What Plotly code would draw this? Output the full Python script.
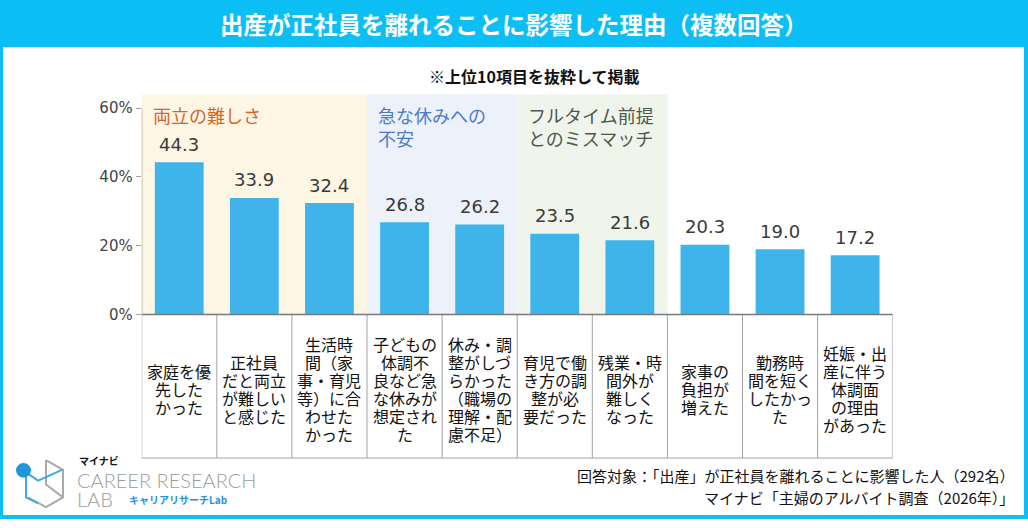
import plotly.graph_objects as go

W, H = 1028, 528

# ---------------- data ----------------
categories = [
    "家庭を優<br>先した<br>かった",
    "正社員<br>だと両立<br>が難しい<br>と感じた",
    "生活時<br>間（家<br>事・育児<br>等）に合<br>わせた<br>かった",
    "子どもの<br>体調不<br>良など急<br>な休みが<br>想定され<br>た",
    "休み・調<br>整がしづ<br>らかった<br>（職場の<br>理解・配<br>慮不足）",
    "育児で働<br>き方の調<br>整が必<br>要だった",
    "残業・時<br>間外が<br>難しく<br>なった",
    "家事の<br>負担が<br>増えた",
    "勤務時<br>間を短く<br>したかっ<br>た",
    "妊娠・出<br>産に伴う<br>体調面<br>の理由<br>があった",
]
values = [44.3, 33.9, 32.4, 26.8, 26.2, 23.5, 21.6, 20.3, 19.0, 17.2]

group_names = ["両立の難しさ", "急な休みへの<br>不安", "フルタイム前提<br>とのミスマッチ"]
group_first = [0, 3, 5]
group_last = [2, 4, 6]
group_fill = ["#FEF6E4", "#EDF1FA", "#F0F5EC"]
group_font = ["#D0672A", "#4C7ACB", "#4E574E"]

ytick_vals = [0, 20, 40, 60]
ytick_text = ["0%", "20%", "40%", "60%"]

title_text = "出産が正社員を離れることに影響した理由（複数回答）"
subtitle_text = "※上位10項目を抜粋して掲載"
note_lines = [
    "回答対象：「出産」が正社員を離れることに影響した人（292名）",
    "マイナビ「主婦のアルバイト調査（2026年）」",
]

# ---------------- helpers ----------------
def px(x):
    return x / W


def py(y):
    return 1 - y / H


CJK = "Noto Sans CJK JP"
CYAN = "#0BBEF4"
BAR = "#3FB4EA"

X0, X1 = 141.7, 892.7       # plot left/right in px
Y0, YT = 320.0, 96.0        # zero line / top of plot in px
UNIT = 3.5                  # px per percent
YMAX = (Y0 - YT) / UNIT
TABLE_BOTTOM = 466.0
LABEL_CENTER = 396.0
LABEL_STEP = 18.4

idx = list(range(len(values)))

fig = go.Figure()
fig.add_trace(go.Bar(
    x=idx, y=values, width=0.65,
    marker=dict(color=BAR, line=dict(width=0)),
    hoverinfo="skip", showlegend=False,
))

shapes = []
# banner and frame
shapes.append(dict(type="rect", xref="paper", yref="paper", x0=0, x1=1, y0=py(48), y1=1,
                   fillcolor=CYAN, line=dict(width=0), layer="below"))
shapes.append(dict(type="rect", xref="paper", yref="paper", x0=0, x1=px(3), y0=0, y1=1,
                   fillcolor=CYAN, line=dict(width=0), layer="below"))
shapes.append(dict(type="rect", xref="paper", yref="paper", x0=px(1024), x1=1, y0=0, y1=1,
                   fillcolor=CYAN, line=dict(width=0), layer="below"))
shapes.append(dict(type="rect", xref="paper", yref="paper", x0=0, x1=1, y0=0, y1=py(524),
                   fillcolor=CYAN, line=dict(width=0), layer="below"))

# group bands
for a, b, c in zip(group_first, group_last, group_fill):
    shapes.append(dict(type="rect", xref="x", yref="y", x0=a - 0.5, x1=b + 0.5, y0=0, y1=YMAX,
                       fillcolor=c, line=dict(width=0), layer="below"))

# y axis line
shapes.append(dict(type="line", xref="x", yref="y", x0=-0.5, x1=-0.5, y0=0, y1=60,
                   line=dict(color="#C2B496", width=1.5)))

# category table
shapes.append(dict(type="rect", xref="x", yref="paper", x0=-0.5, x1=len(values) - 0.5,
                   y0=py(TABLE_BOTTOM), y1=py(Y0), line=dict(color="#A3A3A3", width=1)))
for i in range(1, len(values)):
    shapes.append(dict(type="line", xref="x", yref="paper", x0=i - 0.5, x1=i - 0.5,
                       y0=py(TABLE_BOTTOM), y1=py(Y0), line=dict(color="#A3A3A3", width=1)))
shapes.append(dict(type="line", xref="x", yref="paper", x0=-0.5, x1=len(values) - 0.5,
                   y0=py(Y0), y1=py(Y0), line=dict(color="#7A7A7A", width=1.5)))


# logo icon
def path(points):
    s = "M {} {}".format(px(points[0][0]), py(points[0][1]))
    for x, y in points[1:]:
        s += " L {} {}".format(px(x), py(y))
    return s


GRAY = "#A9A9A9"
LBLUE = "#3FA9E8"
shapes.append(dict(type="path", xref="paper", yref="paper",
                   path=path([(46, 468), (63, 478), (63, 506), (46, 516), (28, 506)]),
                   line=dict(color=GRAY, width=2)))
shapes.append(dict(type="path", xref="paper", yref="paper",
                   path=path([(46, 468), (46, 493), (63, 506)]),
                   line=dict(color=GRAY, width=2)))
shapes.append(dict(type="path", xref="paper", yref="paper",
                   path=path([(26, 484), (26, 506), (38, 512)]),
                   line=dict(color=LBLUE, width=2)))
shapes.append(dict(type="path", xref="paper", yref="paper",
                   path=path([(24, 479), (38, 489), (62, 478)]),
                   line=dict(color=LBLUE, width=2)))
shapes.append(dict(type="circle", xref="paper", yref="paper",
                   x0=px(16), x1=px(31), y0=py(486), y1=py(471),
                   fillcolor="#1E96DC", line=dict(width=0)))

ann = []
ann.append(dict(text=title_text, x=px(514), y=py(24), xref="paper", yref="paper",
                xanchor="center", yanchor="middle", showarrow=False,
                font=dict(family=CJK, size=23.5, color="white", weight="bold")))
ann.append(dict(text="<b>" + subtitle_text + "</b>", x=px(534), y=py(77), xref="paper", yref="paper",
                xanchor="center", yanchor="middle", showarrow=False,
                font=dict(family=CJK, size=16, color="#111111")))

for name, a, c in zip(group_names, group_first, group_font):
    ann.append(dict(text=name, x=a - 0.5, y=py(102), xref="x", yref="paper",
                    xanchor="left", yanchor="top", xshift=9, showarrow=False, align="left",
                    font=dict(family=CJK, size=18, color=c)))

for i, v in enumerate(values):
    ann.append(dict(text="{:.1f}".format(v), x=i, y=v, xref="x", yref="y",
                    xanchor="center", yanchor="middle", yshift=18, showarrow=False,
                    font=dict(family="DejaVu Sans", size=18, color="#3A3A3A")))

for i, c in enumerate(categories):
    lines = c.split("<br>")
    n = len(lines)
    for k, line in enumerate(lines):
        yc = LABEL_CENTER + (k - (n - 1) / 2) * LABEL_STEP
        ann.append(dict(text=line, x=i, y=py(yc), xref="x", yref="paper",
                        xanchor="center", yanchor="middle", showarrow=False, align="center",
                        borderpad=0,
                        font=dict(family=CJK, size=16, color="#111111")))

for k, t in enumerate(note_lines):
    ann.append(dict(text=t, x=px(1016), y=py(484 + 22 * k), xref="paper", yref="paper",
                    xanchor="right", yanchor="middle", showarrow=False,
                    font=dict(family=CJK, size=15, color="#111111")))

# logo texts
ann.append(dict(text="<b>マイナビ</b>", x=px(77), y=py(468), xref="paper", yref="paper",
                xanchor="left", yanchor="middle", showarrow=False,
                font=dict(family=CJK, size=10, color="#111111")))
ann.append(dict(text="CAREER RESEARCH", x=px(76), y=py(488), xref="paper", yref="paper",
                xanchor="left", yanchor="middle", showarrow=False, borderpad=0,
                font=dict(family="Lato", size=20, color="#9C9C9C", weight=300)))
ann.append(dict(text="LAB", x=px(76), y=py(508), xref="paper", yref="paper",
                xanchor="left", yanchor="middle", showarrow=False, borderpad=0,
                font=dict(family="Lato", size=20, color="#9C9C9C", weight=300)))
ann.append(dict(text="<b>キャリアリサーチLab</b>", x=px(127), y=py(508), xref="paper", yref="paper",
                xanchor="left", yanchor="middle", showarrow=False,
                font=dict(family=CJK, size=10, color="#2A8FE0")))

fig.update_layout(
    width=W, height=H,
    margin=dict(l=0, r=0, t=0, b=0),
    paper_bgcolor="white", plot_bgcolor="rgba(0,0,0,0)",
    shapes=shapes, annotations=ann,
    xaxis=dict(domain=[px(X0), px(X1)], range=[-0.5, len(values) - 0.5],
               showticklabels=False, showgrid=False, zeroline=False, showline=False,
               fixedrange=True),
    yaxis=dict(domain=[py(Y0), py(YT)], range=[0, YMAX],
               tickvals=ytick_vals, ticktext=ytick_text,
               ticks="outside", ticklen=5, tickcolor="#A0A0A0",
               tickfont=dict(family="DejaVu Sans", size=15, color="#444444"),
               showgrid=False, zeroline=False, showline=False, fixedrange=True),
    bargap=0.35,
)

fig.write_html("out.html")
